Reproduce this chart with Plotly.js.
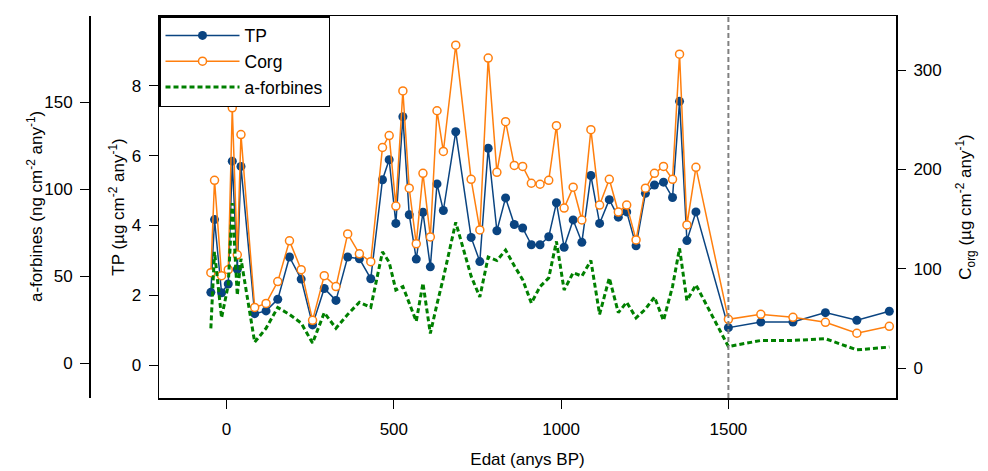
<!DOCTYPE html>
<html>
<head>
<meta charset="utf-8">
<script src="https://cdn.plot.ly/plotly-3.0.1.min.js"></script>
<style>html,body{margin:0;padding:0;background:#fff;}#chart{width:988px;height:471px;}</style>
</head>
<body>
<div id="chart"></div>
<script>
// ---- data ----
const years = [-47,-36,-15,5,17,32,43,84,118,153,188,223,257,292,327,362,397,431,466,486,506,527,546,567,587,609,629,648,685,731,757,782,808,834,860,885,911,937,963,986,1009,1036,1062,1089,1115,1144,1171,1196,1224,1252,1279,1306,1333,1354,1376,1403,1500,1597,1693,1790,1884,1981];
const tp = [2.09,4.17,2.08,2.33,5.84,2.75,5.69,1.48,1.56,1.89,3.10,2.47,1.16,2.20,1.86,3.10,3.05,2.48,5.31,5.88,4.06,7.11,4.31,3.04,4.38,2.82,5.19,4.43,6.68,3.66,2.97,6.21,3.85,4.79,4.03,3.93,3.45,3.45,3.68,4.65,3.38,4.16,3.52,5.43,4.06,4.74,4.24,4.39,3.42,4.92,5.16,5.24,4.80,7.55,3.57,4.39,1.08,1.24,1.24,1.51,1.29,1.55];
const corg = [96,189,93,99,262,114,235,61,65,87,128,99,48,93,82,135,115,107,222,234,163,279,181,125,196,132,259,218,325,190,139,312,197,248,204,203,186,185,189,244,161,182,149,240,164,190,157,164,129,181,196,203,190,316,144,202,49,54,51,46,35,42];
const aforb = [20,64,26,45,92,39,60,12,20,32,28,23,11.5,29,20,28,35,32,64,58,42,44,34.5,24,46,17,34,49,81,50,38,61,59,65,56,48,34.5,44,49,70,42,52,50,59,28,49,29,35,26,31,38,24.5,44,66,36,45,9.5,13,13,14,7.6,9.2];
const boundaryYear = 1500;
const xTicks = [0,500,1000,1500];
const tpTicks = [0,2,4,6,8];
const corgTicks = [0,100,200,300];
const aforbTicks = [0,50,100,150];

const FONT = 'Liberation Sans, Arial, Helvetica, sans-serif';
const FS = 17;

const traces = [
  {x: years, y: tp, name: 'TP', type: 'scatter', mode: 'lines+markers',
   line: {color: '#0a4481', width: 1.5},
   marker: {color: '#0a4481', size: 9, symbol: 'circle'}, yaxis: 'y'},
  {x: years, y: corg, name: 'Corg', type: 'scatter', mode: 'lines+markers',
   line: {color: '#ff7f0e', width: 1.5},
   marker: {color: '#ffffff', size: 8, symbol: 'circle', line: {color: '#ff7f0e', width: 1.5}}, yaxis: 'y2'},
  {x: years, y: aforb, name: 'a-forbines', type: 'scatter', mode: 'lines',
   line: {color: '#008000', width: 3, dash: '5px,3px'}, yaxis: 'y3'}
];

const L = 20, R = 92, W = 988;
const plotW = W - L - R;
const d0 = (159 - L) / plotW;
const pos3 = (90 - L) / plotW;

const axisCommon = {
  showgrid: false, zeroline: false, showline: true, linecolor: '#000', linewidth: 1.5,
  ticks: 'outside', ticklen: 9, tickwidth: 1, tickcolor: '#000',
  tickfont: {family: FONT, size: FS, color: '#000'}
};

const layout = {
  width: 988, height: 471,
  margin: {l: L, r: R, t: 16, b: 73},
  paper_bgcolor: '#fff', plot_bgcolor: '#fff',
  font: {family: FONT, size: FS, color: '#000'},
  showlegend: true,
  legend: {x: d0, y: 1, xanchor: 'left', yanchor: 'top', bgcolor: '#fff',
           bordercolor: '#000', borderwidth: 1.5, font: {family: FONT, size: 17.5, color: '#000'},
           tracegroupgap: 0, itemwidth: 74},
  xaxis: Object.assign({}, axisCommon, {
    domain: [d0, 1], range: [-202, 2001], tickmode: 'array', tickvals: xTicks,
    mirror: true, ticklabelstandoff: 6,
    title: {text: 'Edat (anys BP)', font: {family: FONT, size: FS, color: '#000'}, standoff: 15}
  }),
  yaxis: Object.assign({}, axisCommon, {
    range: [-0.93, 9.99], tickmode: 'array', tickvals: tpTicks, mirror: true,
    ticklabelstandoff: 4,
    title: {text: 'TP (µg cm<sup>-2</sup> any<sup>-1</sup>)', font: {family: FONT, size: FS, color: '#000'}, standoff: 2}
  }),
  yaxis2: Object.assign({}, axisCommon, {
    overlaying: 'y', side: 'right', anchor: 'x',
    range: [-30.2, 354.4], tickmode: 'array', tickvals: corgTicks, showline: false,
    ticklabelstandoff: 4,
    title: {text: 'C<sub>org</sub> (µg cm<sup>-2</sup> any<sup>-1</sup>)', font: {family: FONT, size: FS, color: '#000'}, standoff: 18}
  }),
  yaxis3: Object.assign({}, axisCommon, {
    overlaying: 'y', side: 'left', anchor: 'free', position: pos3,
    range: [-20.1, 199.7], tickmode: 'array', tickvals: aforbTicks, linewidth: 2,
    ticklabelstandoff: 4
  }),
  annotations: [{
    text: 'a-forbines (ng cm<sup>-2</sup> any<sup>-1</sup>)', xref: 'paper', yref: 'paper',
    x: (35 - L) / plotW, y: 0.5, xanchor: 'center', yanchor: 'middle', textangle: -90,
    showarrow: false, font: {family: FONT, size: FS, color: '#000'}
  }],
  shapes: [{type: 'line', xref: 'x', yref: 'paper', x0: boundaryYear, x1: boundaryYear, y0: 0, y1: 1,
            line: {color: '#808080', width: 2, dash: '5px,3px'}, layer: 'above'}]
};

Plotly.newPlot('chart', traces, layout, {displayModeBar: false, staticPlot: true});
</script>
</body>
</html>
